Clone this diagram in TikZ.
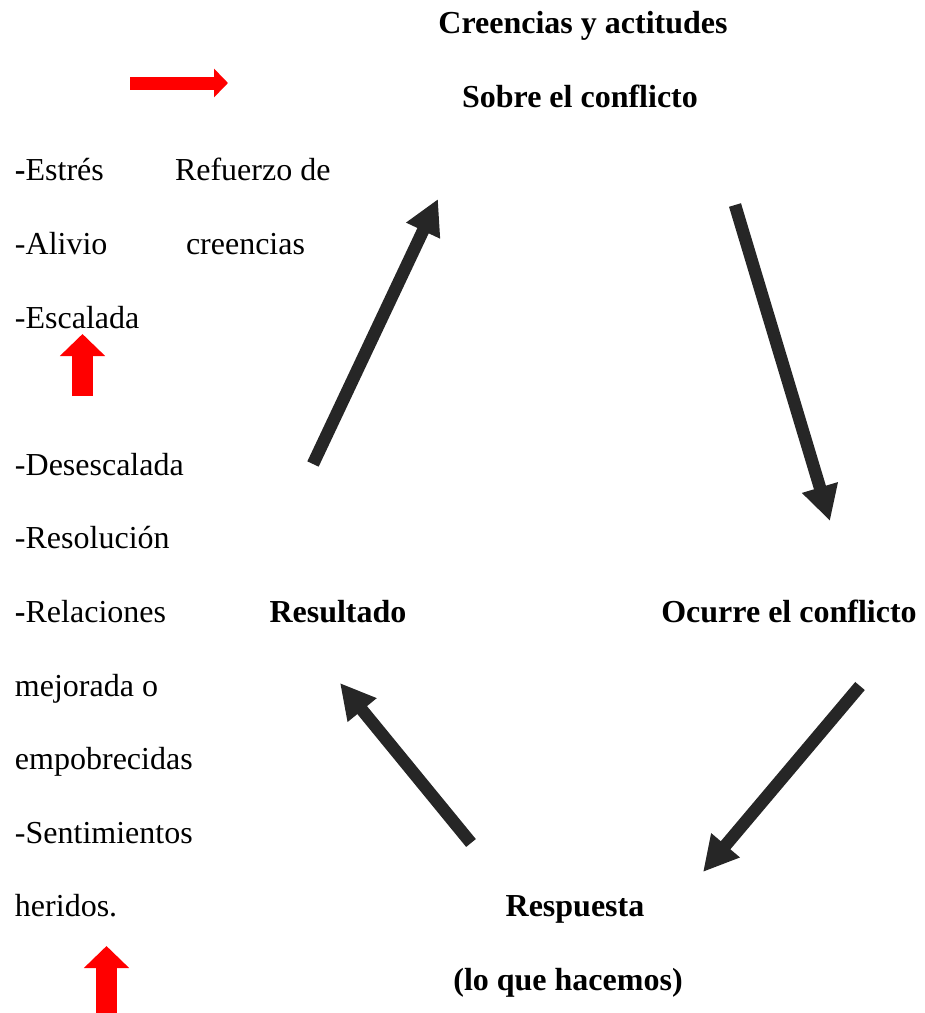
\documentclass[tikz,border=0pt]{standalone}
\usepackage{fontspec}
\setmainfont{Liberation Serif}
\usetikzlibrary{arrows.meta}
\definecolor{arrowgray}{HTML}{262626}
\tikzset{
  lbl/.style={inner sep=0pt, outer sep=0pt, font=\fontsize{32}{38}\selectfont},
  left/.style={lbl, anchor=base west},
  ctr/.style={lbl, anchor=base, font=\fontsize{32}{38}\selectfont\bfseries},
  cyclearrow/.style={draw=arrowgray, line width=12.5pt, -{Triangle[length=35pt,width=35pt]}},
  redup/.style={draw=red, line width=21pt, -{Triangle[length=22pt,width=44pt]}},
  redright/.style={draw=red, line width=13pt, -{Triangle[length=14pt,width=28pt]}},
}
\begin{document}
\begin{tikzpicture}[x=1pt,y=-1pt]
\useasboundingbox (0,0) rectangle (925,1013);
% centred bold labels
\node[ctr] (creencias) at (583,33) {Creencias y actitudes};
\node[ctr] (sobre) at (580,107) {Sobre el conflicto};
\node[ctr] (resultado) at (338,622) {Resultado};
\node[ctr] (ocurre) at (789,622) {Ocurre el conflicto};
\node[ctr] (respuesta) at (575,916) {Respuesta};
\node[ctr] (hacemos) at (568,990) {(lo que hacemos)};
% left column
\node[left] (estres) at (15,180) {\textbf{-}Estrés};
\node[left] (refuerzo) at (175,180) {Refuerzo de};
\node[left] (alivio) at (15,254) {-Alivio};
\node[left] (creen) at (186,254) {creencias};
\node[left] (escalada) at (15,328) {-Escalada};
\node[left] (desesc) at (15,475) {-Desescalada};
\node[left] (resol) at (15,548) {-Resolución};
\node[left] (relac) at (15,622) {\textbf{-}Relaciones};
\node[left] (mejor) at (15,696) {mejorada o};
\node[left] (empob) at (15,769) {empobrecidas};
\node[left] (sentim) at (15,843) {-Sentimientos};
\node[left] (heridos) at (15,916) {heridos.};
% cycle arrows
\coordinate (a1s) at (313,464);
\coordinate (a1e) at (438,199);
\coordinate (a2s) at (735,205);
\coordinate (a2e) at (830,521);
\coordinate (a3s) at (860,686);
\coordinate (a3e) at (703,872);
\coordinate (a4s) at (471,843);
\coordinate (a4e) at (340,683);
\draw[cyclearrow] (a1s) -- (a1e);
\draw[cyclearrow] (a2s) -- (a2e);
\draw[cyclearrow] (a3s) -- (a3e);
\draw[cyclearrow] (a4s) -- (a4e);
% red arrows
\coordinate (r1s) at (130,83);
\coordinate (r1e) at (228,83);
\coordinate (r2s) at (82.5,396);
\coordinate (r2e) at (82.5,334);
\coordinate (r3s) at (106.5,1013);
\coordinate (r3e) at (106.5,946);
\draw[redright] (r1s) -- (r1e);
\draw[redup] (r2s) -- (r2e);
\draw[redup] (r3s) -- (r3e);
\end{tikzpicture}
\end{document}
